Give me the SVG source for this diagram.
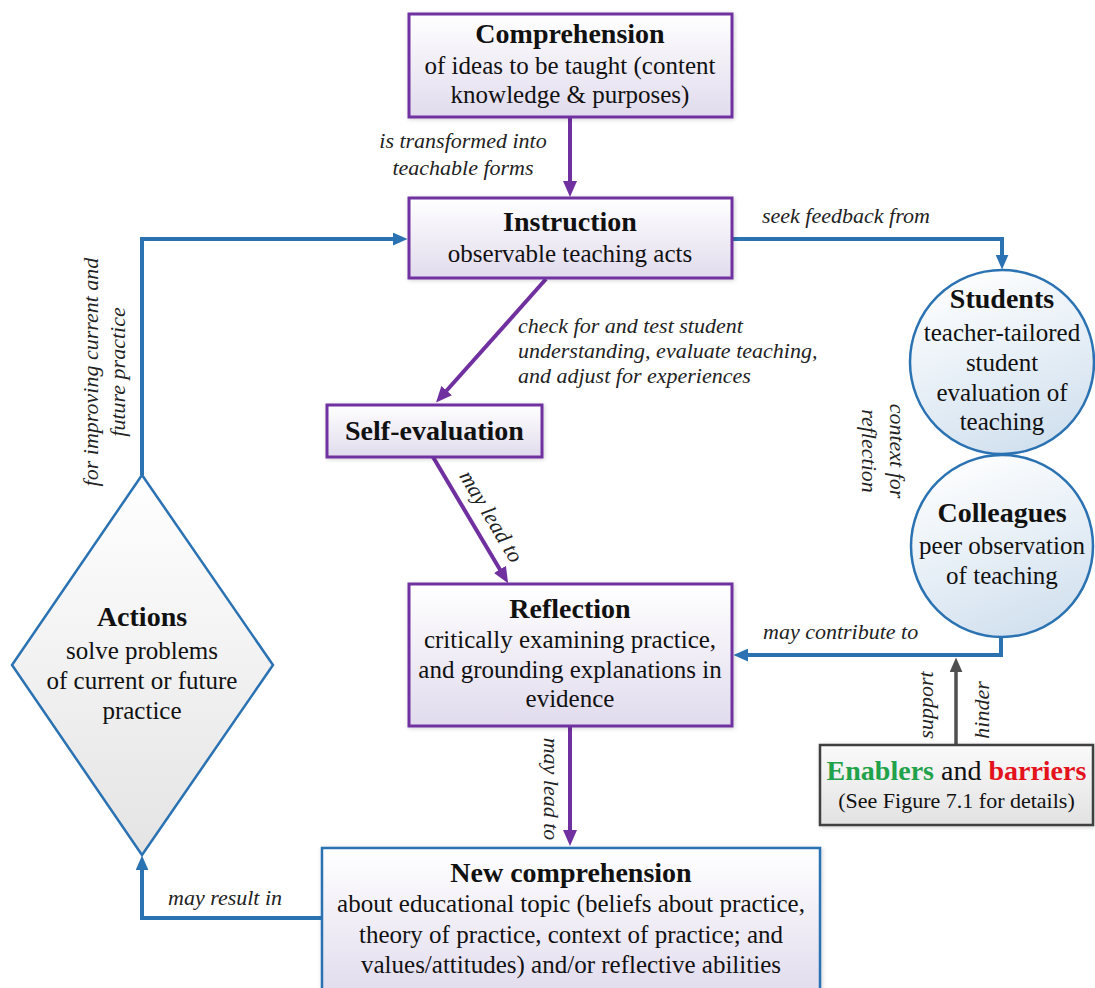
<svg xmlns="http://www.w3.org/2000/svg" width="1095" height="988" viewBox="0 0 1095 988" font-family="'Liberation Serif', 'Times New Roman', Times, serif">
  <style>
    text { font-family: "Liberation Serif", "Times New Roman", Times, serif; fill: #111; }
    .title { font-size: 28px; font-weight: bold; }
    .body { font-size: 25px; }
    .lbl { font-size: 22px; font-style: italic; fill: #222; }
    .pbox { fill: url(#gPurple); stroke: #7030a0; stroke-width: 3; filter: url(#soft); }
    .bbox { fill: url(#gPurple); stroke: #2a72b2; stroke-width: 2.5; filter: url(#soft); }
    .gbox { fill: url(#gGray); stroke: #404040; stroke-width: 2.5; filter: url(#soft); }
    .circ { fill: url(#gBlue); stroke: #2a72b2; stroke-width: 2.5; }
    .diam { fill: url(#gDiam); stroke: #2a72b2; stroke-width: 2.5; }
    .pline { fill: none; stroke: #7030a0; stroke-width: 4; }
    .bline { fill: none; stroke: #2a72b2; stroke-width: 4; }
    .kline { fill: none; stroke: #505050; stroke-width: 3.5; }
  </style>
  <defs>
    <filter id="soft" x="-5%" y="-10%" width="110%" height="120%">
      <feDropShadow dx="1" dy="1" stdDeviation="2" flood-color="#000" flood-opacity="0.18"/>
    </filter>
    <linearGradient id="gPurple" x1="0" y1="0" x2="0" y2="1">
      <stop offset="0" stop-color="#ffffff"/>
      <stop offset="1" stop-color="#e1dbed"/>
    </linearGradient>
    <linearGradient id="gBlue" x1="0.2" y1="0" x2="0.6" y2="1">
      <stop offset="0" stop-color="#ffffff"/>
      <stop offset="1" stop-color="#d2e1ef"/>
    </linearGradient>
    <linearGradient id="gDiam" x1="0" y1="0" x2="0" y2="1">
      <stop offset="0" stop-color="#ffffff"/>
      <stop offset="1" stop-color="#e4e4e4"/>
    </linearGradient>
    <linearGradient id="gGray" x1="0" y1="0" x2="0" y2="1">
      <stop offset="0" stop-color="#fafafa"/>
      <stop offset="1" stop-color="#e2e2e2"/>
    </linearGradient>
    <marker id="ahP" viewBox="0 0 16 14" refX="10" refY="7" markerWidth="16" markerHeight="14" markerUnits="userSpaceOnUse" orient="auto">
      <path d="M0,0 L16,7 L0,14 z" fill="#7030a0"/>
    </marker>
    <marker id="ahB" viewBox="0 0 16 14" refX="10" refY="7" markerWidth="15" markerHeight="13" markerUnits="userSpaceOnUse" orient="auto">
      <path d="M0,0 L16,7 L0,14 z" fill="#2a72b2"/>
    </marker>
    <marker id="ahK" viewBox="0 0 16 14" refX="10" refY="7" markerWidth="15" markerHeight="13" markerUnits="userSpaceOnUse" orient="auto">
      <path d="M0,0 L16,7 L0,14 z" fill="#505050"/>
    </marker>
  </defs>

  <!-- connectors -->
  <g id="connectors">
    <!-- comprehension -> instruction -->
    <path class="pline" d="M570,117 L570,191" marker-end="url(#ahP)"/>
    <text class="lbl" x="463" y="148" text-anchor="middle">is transformed into</text>
    <text class="lbl" x="463" y="175" text-anchor="middle">teachable forms</text>

    <!-- instruction -> students -->
    <path class="bline" d="M732,239 L1002,239 L1002,264" marker-end="url(#ahB)"/>
    <text class="lbl" x="762" y="223">seek feedback from</text>

    <!-- instruction -> self-evaluation -->
    <path class="pline" d="M546,279 L440,398" marker-end="url(#ahP)"/>
    <text class="lbl" x="518" y="333">check for and test student</text>
    <text class="lbl" x="518" y="358">understanding, evaluate teaching,</text>
    <text class="lbl" x="518" y="383">and adjust for experiences</text>

    <!-- self-evaluation -> reflection -->
    <path class="pline" d="M433,457 L505,578" marker-end="url(#ahP)"/>
    <text class="lbl" text-anchor="middle" transform="translate(485,520) rotate(59.2)">may lead to</text>

    <!-- reflection -> new comprehension -->
    <path class="pline" d="M570,726 L570,840" marker-end="url(#ahP)"/>
    <text class="lbl" text-anchor="middle" transform="translate(544,789) rotate(90)">may lead to</text>

    <!-- new comprehension -> actions -->
    <path class="bline" d="M322,918 L142,918 L142,861" marker-end="url(#ahB)"/>
    <text class="lbl" x="168" y="905">may result in</text>

    <!-- actions -> instruction -->
    <path class="bline" d="M142,475 L142,239 L402,239" marker-end="url(#ahB)"/>
    <text class="lbl" text-anchor="middle" transform="translate(98,372) rotate(-90)">for improving current and</text>
    <text class="lbl" text-anchor="middle" transform="translate(125,372) rotate(-90)">future practice</text>

    <!-- students / colleagues context -->
    <text class="lbl" text-anchor="middle" transform="translate(890,451) rotate(90)">context for</text>
    <text class="lbl" text-anchor="middle" transform="translate(862,451) rotate(90)">reflection</text>

    <!-- colleagues -> reflection -->
    <path class="bline" d="M1001,637 L1001,655 L739,655" marker-end="url(#ahB)"/>
    <text class="lbl" x="763" y="639">may contribute to</text>

    <!-- enablers and barriers -> contribution -->
    <path class="kline" d="M956,745 L956,663" marker-end="url(#ahK)"/>
    <text class="lbl" text-anchor="middle" transform="translate(933,705) rotate(-90)">support</text>
    <text class="lbl" text-anchor="middle" transform="translate(989,710) rotate(-90)">hinder</text>
  </g>

  <!-- nodes -->
  <g id="comprehension">
    <rect class="pbox" x="409" y="14" width="323" height="103"/>
    <text class="title" x="570" y="43" text-anchor="middle">Comprehension</text>
    <text class="body" x="570" y="74" text-anchor="middle">of ideas to be taught (content</text>
    <text class="body" x="570" y="103" text-anchor="middle">knowledge &amp; purposes)</text>
  </g>

  <g id="instruction">
    <rect class="pbox" x="409" y="198" width="323" height="80"/>
    <text class="title" x="570" y="231" text-anchor="middle">Instruction</text>
    <text class="body" x="570" y="262" text-anchor="middle">observable teaching acts</text>
  </g>

  <g id="self-evaluation">
    <rect class="pbox" x="327" y="405" width="215" height="52"/>
    <text class="title" x="434.5" y="440" text-anchor="middle">Self-evaluation</text>
  </g>

  <g id="reflection">
    <rect class="pbox" x="409" y="584" width="323" height="142"/>
    <text class="title" x="570" y="618" text-anchor="middle">Reflection</text>
    <text class="body" x="570" y="648" text-anchor="middle">critically examining practice,</text>
    <text class="body" x="570" y="678" text-anchor="middle">and grounding explanations in</text>
    <text class="body" x="570" y="707" text-anchor="middle">evidence</text>
  </g>

  <g id="new-comprehension">
    <rect class="bbox" x="322" y="848" width="498" height="150"/>
    <text class="title" x="571" y="882" text-anchor="middle">New comprehension</text>
    <text class="body" x="571" y="912" text-anchor="middle">about educational topic (beliefs about practice,</text>
    <text class="body" x="571" y="943" text-anchor="middle">theory of practice, context of practice; and</text>
    <text class="body" x="571" y="973" text-anchor="middle">values/attitudes) and/or reflective abilities</text>
  </g>

  <g id="actions">
    <polygon class="diam" points="142,475 273,665 142,855 12,665"/>
    <text class="title" x="142" y="626" text-anchor="middle">Actions</text>
    <text class="body" x="142" y="659" text-anchor="middle">solve problems</text>
    <text class="body" x="142" y="689" text-anchor="middle">of current or future</text>
    <text class="body" x="142" y="719" text-anchor="middle">practice</text>
  </g>

  <g id="students">
    <circle class="circ" cx="1002" cy="362" r="92"/>
    <text class="title" x="1002" y="308" text-anchor="middle">Students</text>
    <text class="body" x="1002" y="341" text-anchor="middle">teacher-tailored</text>
    <text class="body" x="1002" y="371" text-anchor="middle">student</text>
    <text class="body" x="1002" y="401" text-anchor="middle">evaluation of</text>
    <text class="body" x="1002" y="430" text-anchor="middle">teaching</text>
  </g>

  <g id="colleagues">
    <circle class="circ" cx="1002" cy="546" r="91"/>
    <text class="title" x="1002" y="522" text-anchor="middle">Colleagues</text>
    <text class="body" x="1002" y="554" text-anchor="middle">peer observation</text>
    <text class="body" x="1002" y="584" text-anchor="middle">of teaching</text>
  </g>

  <g id="enablers-barriers">
    <rect class="gbox" x="820" y="745" width="273" height="80"/>
    <text class="title" x="956.5" y="780" text-anchor="middle"><tspan fill="#1fa24a">Enablers</tspan><tspan font-weight="normal"> and </tspan><tspan fill="#e3121b">barriers</tspan></text>
    <text x="956.5" y="808" text-anchor="middle" font-size="22">(See Figure 7.1 for details)</text>
  </g>
</svg>
